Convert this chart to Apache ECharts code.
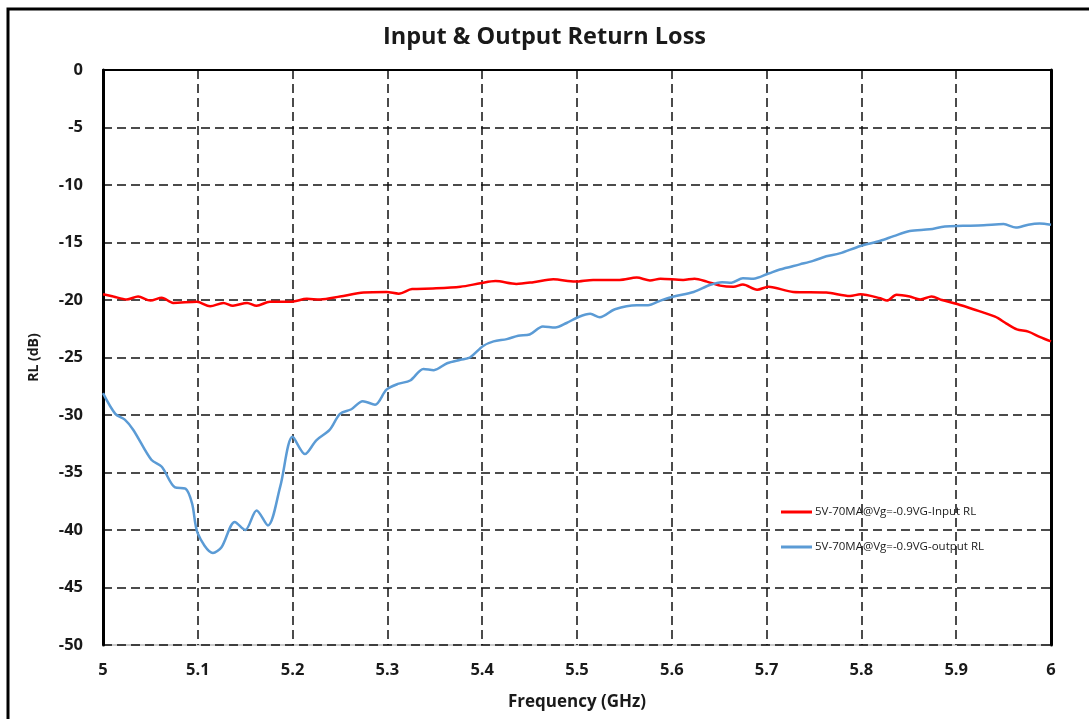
<!DOCTYPE html>
<html>
<head>
<meta charset="utf-8">
<script src="https://cdn.jsdelivr.net/npm/echarts@6/dist/echarts.min.js"></script>
<style>
  html, body { margin: 0; padding: 0; background: #fff; }
  #chart { width: 1089px; height: 719px; }
</style>
</head>
<body>
<div id="chart"></div>
<script>
let seriesNames = ['5V-70MA@Vg=-0.9VG-Input RL', '5V-70MA@Vg=-0.9VG-output RL'];

// input RL (red)
let inFreq = [5.000, 5.011, 5.025, 5.037, 5.050, 5.062, 5.074, 5.099, 5.113, 5.127,
  5.137, 5.152, 5.162, 5.176, 5.199, 5.215, 5.229, 5.250, 5.275, 5.299,
  5.312, 5.326, 5.348, 5.377, 5.398, 5.414, 5.436, 5.454, 5.475, 5.498,
  5.517, 5.545, 5.563, 5.577, 5.588, 5.612, 5.624, 5.637, 5.651, 5.665,
  5.675, 5.690, 5.702, 5.728, 5.763, 5.788, 5.799, 5.820, 5.827, 5.837,
  5.851, 5.862, 5.874, 5.885, 5.901, 5.918, 5.941, 5.953, 5.964, 5.976,
  5.988, 6.000];
let inRL = [-19.5, -19.7, -19.95, -19.7, -20.05, -19.8, -20.25, -20.15, -20.55, -20.25,
  -20.5, -20.25, -20.5, -20.15, -20.15, -19.9, -19.95, -19.7, -19.35, -19.3,
  -19.45, -19.05, -19.0, -18.85, -18.55, -18.35, -18.6, -18.45, -18.2, -18.4,
  -18.25, -18.25, -18.05, -18.3, -18.15, -18.25, -18.15, -18.4, -18.75, -18.85,
  -18.65, -19.1, -18.85, -19.3, -19.35, -19.65, -19.5, -19.85, -20.05, -19.55,
  -19.7, -19.95, -19.7, -20.0, -20.35, -20.8, -21.45, -22.05, -22.55, -22.75,
  -23.2, -23.6];

// output RL (blue)
let outFreq = [5.000, 5.013, 5.023, 5.032, 5.051, 5.062, 5.076, 5.087, 5.094, 5.100,
  5.116, 5.125, 5.139, 5.150, 5.162, 5.174, 5.187, 5.200, 5.213, 5.225,
  5.239, 5.250, 5.262, 5.274, 5.287, 5.299, 5.311, 5.324, 5.338, 5.349,
  5.363, 5.377, 5.387, 5.401, 5.412, 5.426, 5.438, 5.450, 5.464, 5.477,
  5.489, 5.501, 5.514, 5.524, 5.540, 5.563, 5.575, 5.588, 5.602, 5.623,
  5.640, 5.653, 5.663, 5.675, 5.686, 5.702, 5.714, 5.735, 5.749, 5.763,
  5.777, 5.799, 5.820, 5.834, 5.851, 5.872, 5.888, 5.907, 5.929, 5.950,
  5.963, 5.976, 5.988, 6.000];
let outRL = [-28.1, -29.9, -30.4, -31.3, -33.9, -34.5, -36.3, -36.4, -37.7, -40.3,
  -42.0, -41.5, -39.3, -40.0, -38.3, -39.6, -36.2, -31.9, -33.4, -32.2,
  -31.3, -29.9, -29.5, -28.8, -29.1, -27.8, -27.3, -27.0, -26.0, -26.1,
  -25.5, -25.2, -25.0, -24.0, -23.6, -23.4, -23.1, -23.0, -22.3, -22.4,
  -22.0, -21.5, -21.2, -21.5, -20.8, -20.45, -20.45, -20.05, -19.7, -19.3,
  -18.7, -18.45, -18.5, -18.1, -18.15, -17.7, -17.35, -16.9, -16.6, -16.2,
  -15.95, -15.3, -14.85, -14.45, -14.0, -13.85, -13.6, -13.55, -13.5, -13.4,
  -13.7, -13.45, -13.35, -13.45];

function pairs(xs, ys) {
  return xs.map(function (x, i) { return [x, ys[i]]; });
}

let font = '"Open Sans", "DejaVu Sans", sans-serif';
let dash = { color: '#111', width: 1.5, type: [9, 5] };

let option = {
  backgroundColor: '#fff',
  animation: false,
  title: {
    text: 'Input & Output Return Loss',
    left: 'center',
    top: 20,
    textStyle: { fontFamily: font, fontSize: 23.5, fontWeight: 'bold', color: '#1a1a1a' }
  },
  graphic: [{
    type: 'rect',
    shape: { x: 8, y: 9, width: 1200, height: 800 },
    style: { fill: 'none', stroke: '#000', lineWidth: 3 },
    silent: true
  }],
  legend: {
    orient: 'vertical',
    left: 776,
    top: 501,
    itemWidth: 31,
    itemHeight: 3,
    itemGap: 23,
    icon: 'rect',
    textStyle: { fontFamily: font, fontSize: 11.5, color: '#1a1a1a', padding: [0, 0, 0, -2] },
    data: seriesNames
  },
  grid: { left: 103, top: 70, right: 38, bottom: 74, show: true, borderColor: '#999', borderWidth: 1 },
  xAxis: {
    type: 'value',
    min: 5,
    max: 6,
    interval: 0.1,
    name: 'Frequency (GHz)',
    nameLocation: 'middle',
    nameGap: 49,
    nameTextStyle: { fontFamily: font, fontSize: 17, fontWeight: 'bold', color: '#1a1a1a' },
    axisLine: { show: true, lineStyle: { color: '#000', width: 2 } },
    axisTick: { show: false },
    axisLabel: {
      margin: 17,
      fontFamily: font, fontSize: 16.5, fontWeight: 'bold', color: '#1a1a1a',
      formatter: function (v) { return String(+v.toFixed(1)); }
    },
    splitLine: { show: true, lineStyle: dash }
  },
  yAxis: [{
    type: 'value',
    min: -50,
    max: 0,
    interval: 5,
    name: 'RL (dB)',
    nameLocation: 'middle',
    nameGap: 62,
    nameTextStyle: { fontFamily: font, fontSize: 14, fontWeight: 'bold', color: '#1a1a1a' },
    axisLine: { show: true, lineStyle: { color: '#000', width: 3 } },
    axisTick: { show: false },
    axisLabel: { margin: 20, fontFamily: font, fontSize: 16.5, fontWeight: 'bold', color: '#1a1a1a' },
    splitLine: { show: true, lineStyle: dash }
  }, {
    type: 'value',
    position: 'right',
    min: -50,
    max: 0,
    interval: 5,
    axisLine: { show: true, lineStyle: { color: '#000', width: 3 } },
    axisTick: { show: false },
    axisLabel: { show: false },
    splitLine: { show: false }
  }],
  series: [{
    name: seriesNames[0],
    type: 'line',
    smooth: 0.3,
    showSymbol: false,
    color: '#ff0000',
    lineStyle: { width: 2.5 },
    data: pairs(inFreq, inRL)
  }, {
    name: seriesNames[1],
    type: 'line',
    smooth: 0.3,
    showSymbol: false,
    color: '#5b9bd5',
    lineStyle: { width: 2.5 },
    data: pairs(outFreq, outRL)
  }]
};

let myChart = echarts.init(document.getElementById('chart'));
myChart.setOption(option);
</script>
</body>
</html>
